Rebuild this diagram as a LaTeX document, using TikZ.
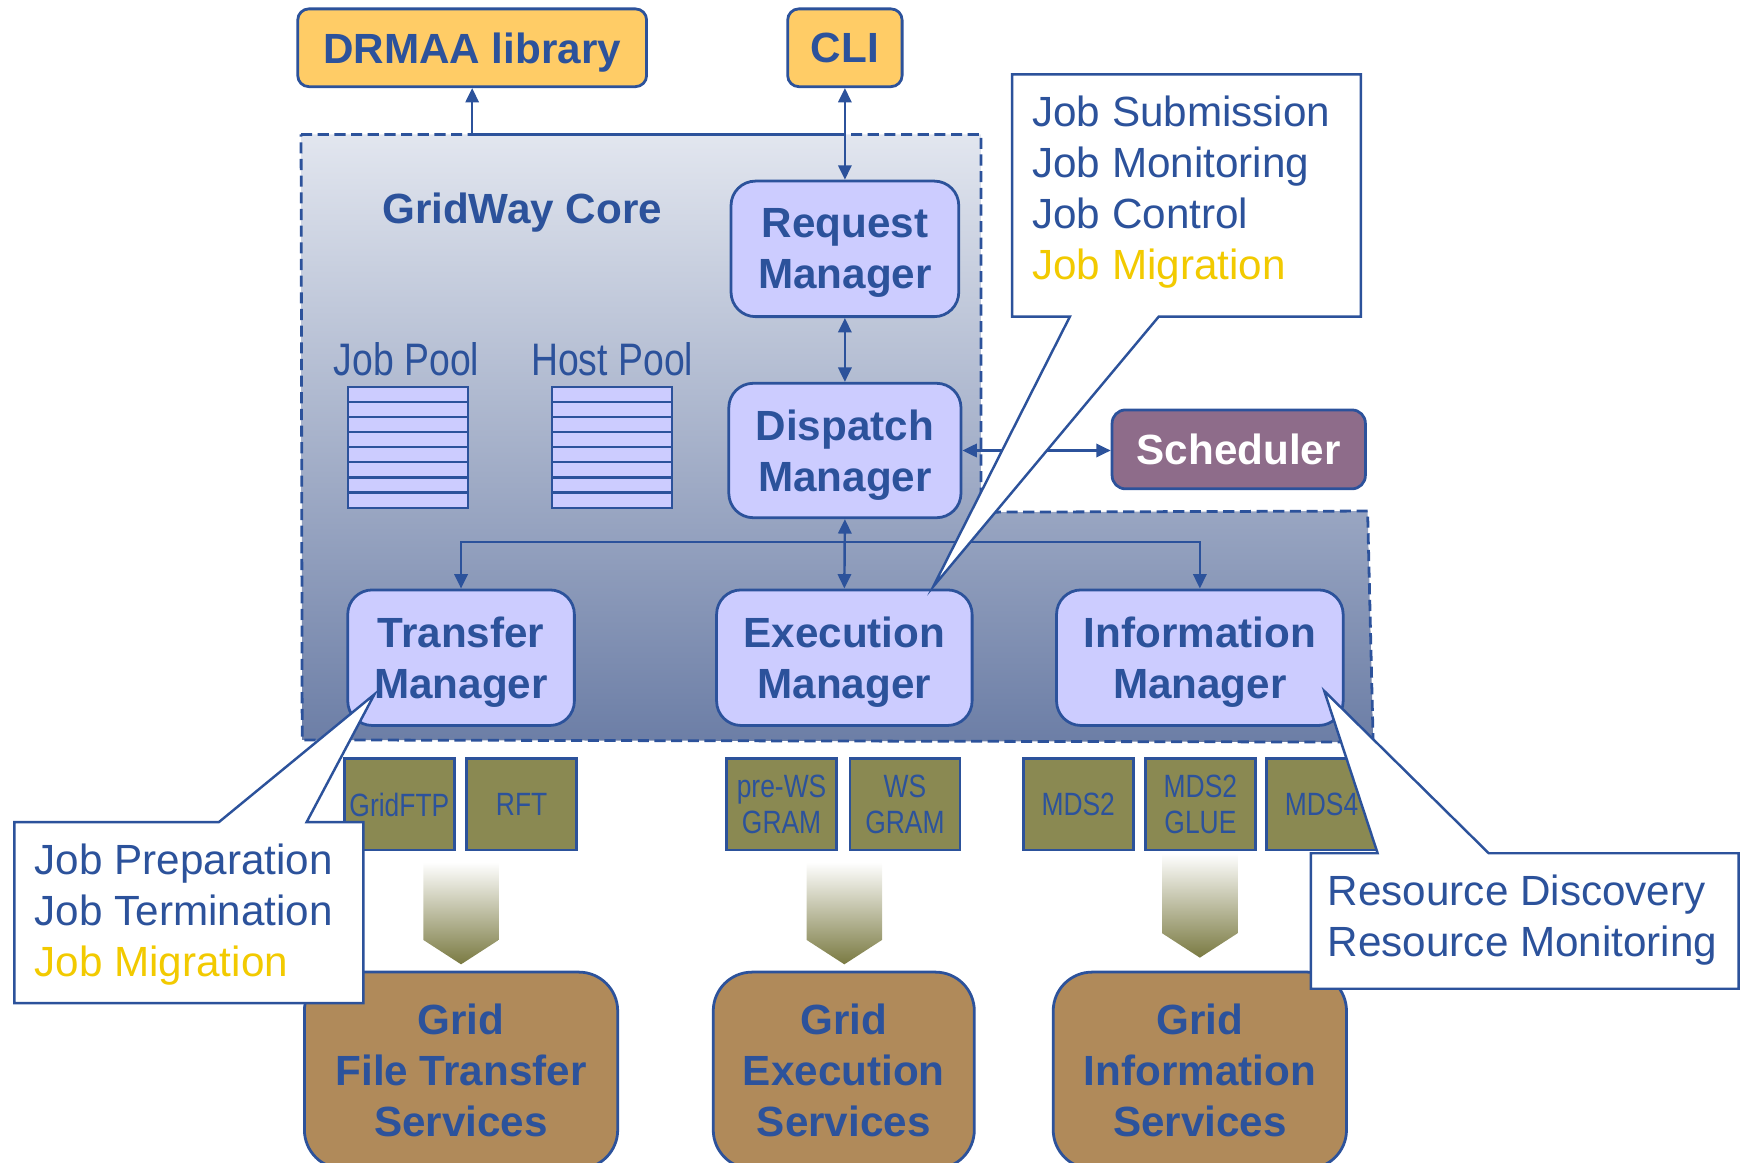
\documentclass[tikz,border=0pt]{standalone}
\usepackage{fontspec}
\setmainfont{Liberation Sans}
\newfontfamily\narrowfont[FakeStretch=0.82]{Liberation Sans}
\usetikzlibrary{arrows.meta}

\definecolor{gwblue}{RGB}{44,82,155}
\definecolor{gwyellow}{RGB}{242,202,0}
\definecolor{gworange}{RGB}{255,204,102}
\definecolor{gwlav}{RGB}{204,204,255}
\definecolor{gwsched}{RGB}{142,108,138}
\definecolor{gwolive}{RGB}{138,137,82}
\definecolor{gwoliveD}{RGB}{122,122,66}
\definecolor{gwbrown}{RGB}{176,138,90}
\definecolor{gwtop}{RGB}{226,230,239}
\definecolor{gwmid}{RGB}{182,190,210}
\definecolor{gwbot}{RGB}{108,126,166}

\tikzset{
  boldtext/.style={font=\bfseries\fontsize{38}{46}\selectfont, text=gwblue, align=center, text depth=0pt, inner sep=0pt},
  topbox/.style={boldtext, draw=gwblue, line width=2.5pt, fill=gworange, rounded corners=10pt},
  mgr/.style={boldtext, draw=gwblue, line width=2.5pt, fill=gwlav, rounded corners=22pt, minimum height=122pt},
  schedbox/.style={boldtext, text=white, draw=gwblue, line width=2.5pt, fill=gwsched, rounded corners=12pt},
  proto/.style={font=\narrowfont\fontsize{29}{33}\selectfont, text=gwblue, align=center, text depth=0pt, inner sep=0pt,
                draw=gwblue, line width=2.5pt, fill=gwolive, minimum width=99pt, minimum height=82pt},
  svc/.style={boldtext, draw=gwblue, line width=2.5pt, fill=gwbrown, rounded corners=35pt, minimum height=177pt},
  link/.style={draw=gwblue, line width=2.2pt},
  tip/.style={-{Triangle[length=13pt,width=12pt]}},
  dtip/.style={{Triangle[length=13pt,width=12pt]}-{Triangle[length=13pt,width=12pt]}},
  callout/.style={draw=gwblue, line width=2.2pt, fill=white},
  ctext/.style={font=\fontsize{38}{46}\selectfont, text=gwblue, align=left, text depth=0pt, inner sep=0pt, anchor=west},
  poollabel/.style={font=\narrowfont\fontsize{41}{46}\selectfont, text=gwblue, inner sep=0pt, anchor=base},
  pool/.style={fill=gwlav, draw=gwblue, line width=2pt},
  fatarrow/.style={top color=white, bottom color=gwoliveD}
}

\begin{document}
\begin{tikzpicture}[x=1pt,y=-1pt]
\useasboundingbox (0,0) rectangle (1568,1046);

% GridWay core region
\path[top color=gwtop, middle color=gwmid, bottom color=gwbot]
  (271,121) -- (883,121) -- (883,461) -- (1231,460) -- (1236,668) -- (272,666) -- cycle;
\draw[gwblue, line width=2.5pt, dash pattern=on 10pt off 5pt]
  (271,121) -- (883,121) -- (883,461) -- (1231,460) -- (1236,668) -- (272,666) -- cycle;

\node[boldtext] (corelabel) at (470,187) {GridWay Core};

% pools
\node[poollabel] (jplabel) at (366,338) {Job Pool};
\node[poollabel] (hplabel) at (551,338) {Host Pool};
\foreach \x in {313,497} {
  \filldraw[pool] (\x,348) rectangle ({\x+108},457);
  \foreach \i in {1,...,7}
    \draw[gwblue, line width=2pt] (\x,{348+\i*13.625}) -- ({\x+108},{348+\i*13.625});
}

% managers
\node[mgr, minimum width=205pt] (request) at (760.5,224) {Request\\Manager};
\node[mgr, minimum width=209pt, minimum height=121pt] (dispatch) at (760.5,405.5) {Dispatch\\Manager};
\node[mgr, minimum width=204pt] (transfer) at (415,592) {Transfer\\Manager};
\node[mgr, minimum width=230pt] (exec) at (760,592) {Execution\\Manager};
\node[mgr, minimum width=258pt] (info) at (1080,592) {Information\\Manager};

% top interfaces
\node[topbox, minimum width=314pt, minimum height=70pt] (drmaa) at (425,43) {DRMAA library};
\node[topbox, minimum width=103pt, minimum height=70pt] (cli) at (760.5,43) {CLI};
\node[schedbox, minimum width=228pt, minimum height=71pt] (sched) at (1115,404.5) {Scheduler};

% connectors
\coordinate (dj) at (425,121);
\coordinate (cj) at (760.5,121);
\coordinate (bus) at (760.5,488);
\draw[link, tip] (dj) -- (drmaa.south);
\draw[link] (dj) -- (cj);
\draw[link, dtip] (cli.south) -- (request.north);
\draw[link, dtip] (request.south) -- (dispatch.north);
\draw[link, dtip] (dispatch.east) -- (dispatch.east -| sched.west);
\draw[link, dtip] (dispatch.south) -- (exec.north);
\draw[link, tip] (bus) -| (transfer.north);
\draw[link, tip] (bus) -| (info.north);

% middleware boxes
\node[proto] (gridftp) at (359.5,724) {GridFTP};
\node[proto] (rft) at (469.5,724) {RFT};
\node[proto] (prews) at (703.5,724) {pre-WS\\GRAM};
\node[proto] (ws) at (814.5,724) {WS\\GRAM};
\node[proto] (mds2) at (970.5,724) {MDS2};
\node[proto] (glue) at (1080.5,724) {MDS2\\GLUE};
\node[proto] (mds4) at (1189.5,724) {MDS4};

% fat arrows
\shade[fatarrow] (381,776) -- (449,776) -- (449,846) -- (415,868) -- (381,846) -- cycle;
\shade[fatarrow] (726,776) -- (794,776) -- (794,846) -- (760,868) -- (726,846) -- cycle;
\shade[fatarrow] (1046,768) -- (1114,768) -- (1114,840) -- (1080,862) -- (1046,840) -- cycle;

% grid services
\node[svc, minimum width=282pt] (gft) at (415,963.5) {Grid\\File Transfer\\Services};
\node[svc, minimum width=235pt] (gexec) at (759.5,963.5) {Grid\\Execution\\Services};
\node[svc, minimum width=264pt] (ginfo) at (1080,963.5) {Grid\\Information\\Services};

% callouts
\filldraw[callout] (911,67) -- (1225,67) -- (1225,285) -- (1043,285) -- (840,528) -- (963,285) -- (911,285) -- cycle;
\node[ctext] (c1) at (929,169) {Job Submission\\Job Monitoring\\Job Control\\\textcolor{gwyellow}{Job Migration}};

\filldraw[callout] (13,740) -- (197,740) -- (337,625) -- (276,740) -- (327,740) -- (327,903) -- (13,903) -- cycle;
\node[ctext] (c2) at (31,819) {Job Preparation\\Job Termination\\\textcolor{gwyellow}{Job Migration}};

\filldraw[callout] (1180,768) -- (1240,768) -- (1192,622) -- (1340,768) -- (1565,768) -- (1565,890) -- (1180,890) -- cycle;
\node[ctext] (c3) at (1195,824) {Resource Discovery\\Resource Monitoring};
\end{tikzpicture}
\end{document}
